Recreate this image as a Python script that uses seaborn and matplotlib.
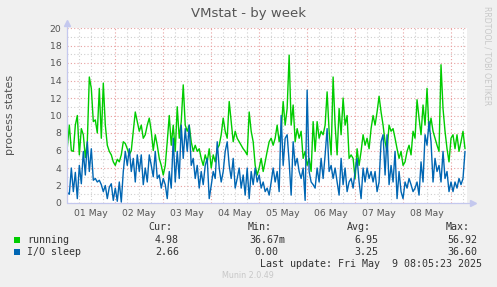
import numpy as np
import pandas as pd
import matplotlib
matplotlib.use("Agg")
import matplotlib.pyplot as plt
import matplotlib.dates as mdates
from matplotlib.ticker import MultipleLocator, FuncFormatter, NullFormatter
from matplotlib.patches import Rectangle
import seaborn as sns

# ---------------- data (hourly samples) ----------------
running = [
    6.4, 8.9, 6.0, 5.9, 8.9, 10.0, 5.5, 8.5, 7.8, 5.2, 7.0, 14.4, 13.1, 9.3, 9.5, 8.0, 13.1, 7.4, 13.7, 8.9,
    6.6, 5.9, 5.5, 4.7, 4.3, 5.0, 4.7, 5.5, 7.0, 6.8, 6.2, 5.5, 6.0, 8.2, 10.4, 9.3, 8.2, 8.9, 7.4, 7.8,
    8.9, 9.7, 8.2, 6.0, 7.8, 6.6, 5.1, 4.3, 3.2, 4.3,
    7.0, 10.0, 6.6, 8.9, 5.9, 11.0, 7.4, 9.3, 13.5, 8.9, 8.2, 8.9, 7.0, 5.9, 6.6, 5.9, 6.2, 5.1, 4.3, 5.5,
    4.7, 6.2, 4.0, 5.5, 4.7, 6.2, 6.6, 7.8, 9.7, 8.2, 7.4, 11.6, 9.3, 7.0, 8.2, 7.4, 7.0, 6.6, 6.2, 5.9,
    5.5, 10.4, 8.2, 7.0, 4.3, 3.2, 4.0, 5.1, 3.6, 4.7,
    5.9, 7.0, 7.4, 6.6, 7.4, 8.9, 7.0, 8.2, 11.6, 8.9, 10.8, 16.9, 8.9, 11.2, 7.0, 8.5, 7.4, 8.2, 5.1, 5.9,
    4.3, 5.1, 3.6, 9.3, 5.9, 9.3, 7.4, 8.2, 7.8, 8.9, 12.7, 8.2, 5.5, 14.4, 8.9, 5.5, 10.8, 7.8, 12.0, 8.9,
    10.0, 5.1, 5.5, 5.1, 2.8, 6.2, 4.3, 5.9, 7.8, 6.6,
    7.4, 6.2, 8.5, 10.0, 8.9, 10.4, 12.2, 10.4, 8.9, 7.0, 5.9, 8.9, 8.2, 8.5, 7.4, 6.2, 5.1, 5.9, 4.3, 4.7,
    5.9, 6.6, 5.5, 8.2, 7.4, 11.8, 9.7, 7.8, 11.2, 8.9, 13.1, 8.2, 9.7, 8.2, 7.4, 6.6, 5.9, 15.8, 10.8, 8.2,
    6.2, 4.7, 7.4, 7.8, 6.2, 7.8, 5.9, 7.0, 8.2, 6.2,
]
io_sleep = [
    1.2, 1.0, 4.0, 1.3, 3.5, 0.5, 4.3, 2.2, 5.9, 3.2, 7.0, 3.6, 6.2, 2.6, 2.8, 2.4, 2.6, 2.1, 1.3, 2.0,
    0.5, 1.8, 2.2, 0.3, 1.7, 0.2, 2.4, 0.1, 3.6, 5.9, 4.3, 6.2, 3.6, 5.1, 2.4, 5.5, 3.6, 5.5, 2.1, 4.0,
    2.4, 5.5, 4.3, 3.0, 5.9, 2.8, 3.2, 1.7, 2.8, 2.1,
    0.5, 3.6, 1.7, 7.4, 2.4, 5.9, 2.8, 8.9, 5.1, 8.5, 5.9, 8.9, 4.3, 5.1, 2.8, 4.3, 1.7, 3.6, 2.1, 4.3,
    5.1, 0.5, 2.0, 3.6, 2.8, 7.0, 4.0, 2.4, 3.6, 5.9, 7.0, 4.3, 2.8, 5.1, 1.7, 2.8, 4.0, 1.7, 3.2, 0.9,
    4.0, 0.5, 3.6, 2.1, 4.0, 2.4, 3.2, 1.7, 2.4, 1.3,
    1.7, 0.9, 2.4, 4.0, 2.4, 3.6, 1.3, 10.0, 4.3, 7.4, 7.8, 4.7, 0.9, 7.0, 4.3, 5.1, 3.6, 2.8, 4.0, 0.3,
    12.9, 3.6, 2.4, 2.1, 1.7, 4.0, 2.4, 5.1, 2.8, 5.5, 8.5, 3.6, 4.3, 2.8, 4.0, 2.4, 0.9, 5.1, 2.1, 4.0,
    1.3, 2.4, 2.8, 1.7, 3.6, 5.1, 2.4, 0.5, 4.0, 2.4,
    4.0, 2.8, 3.6, 2.4, 3.6, 1.3, 2.4, 7.0, 7.8, 3.2, 7.8, 2.1, 4.3, 2.4, 5.9, 0.5, 3.6, 1.3, 0.5, 2.4,
    1.7, 2.8, 2.1, 1.3, 1.7, 2.4, 0.9, 4.7, 2.4, 7.8, 6.6, 9.3, 7.0, 2.4, 5.1, 3.6, 4.3, 2.4, 5.9, 2.8,
    3.6, 1.3, 2.4, 1.3, 2.4, 1.7, 2.8, 2.1, 2.8, 5.9,
]
series_names = ["running", "I/O sleep"]
series_colors = ["#00CC00", "#0066B3"]
cur_vals = ["4.98", "2.66"]
min_vals = ["36.67m", "0.00"]
avg_vals = ["6.95", "3.25"]
max_vals = ["56.92", "36.60"]
title = "VMstat - by week"
ylabel = "process states"
last_update = "Last update: Fri May  9 08:05:23 2025"

# ---------------- frame ----------------
times = pd.date_range("2025-05-01 00:05", periods=len(running), freq="h")
df = pd.DataFrame({
    "time": list(times) + list(times),
    "value": running + io_sleep,
    "series": [series_names[0]] * len(running) + [series_names[1]] * len(io_sleep),
})

W, H = 497, 287
sns.set_style("white")
plt.rcParams["font.family"] = ["DejaVu Sans"]
fig = plt.figure(figsize=(W / 100, H / 100), dpi=100, facecolor="#F0F0F0")
ax = fig.add_axes([67 / W, 1 - 203 / H, 400 / W, 175 / H])
ax.set_facecolor("white")

sns.lineplot(data=df, x="time", y="value", hue="series", hue_order=series_names,
             palette=series_colors, linewidth=1.0, ax=ax, legend=False,
             estimator=None, sort=False, zorder=3)

ax.set_xlim(pd.Timestamp("2025-04-30 23:55"), pd.Timestamp("2025-05-09 08:05"))
ax.set_ylim(0, 20)
ax.set_xlabel("")
ax.set_ylabel("")

# grid
ax.yaxis.set_major_locator(MultipleLocator(2))
ax.yaxis.set_minor_locator(MultipleLocator(1))
ax.xaxis.set_major_locator(mdates.HourLocator(byhour=[0]))
ax.xaxis.set_minor_locator(mdates.HourLocator(byhour=[6, 12, 18]))
ax.xaxis.set_major_formatter(NullFormatter())


def noon_fmt(x, pos):
    d = mdates.num2date(x)
    return d.strftime("%d %b") if d.hour == 12 else ""


ax.xaxis.set_minor_formatter(FuncFormatter(noon_fmt))
ax.grid(which="major", color="#E8A0A0", linestyle=(0, (1, 2)), linewidth=0.8, zorder=0)
ax.grid(which="minor", color="#CFCFCF", linestyle=(0, (1, 2)), linewidth=0.8, zorder=0)
ax.set_axisbelow(True)
ax.tick_params(axis="both", which="both", length=0, labelsize=6.7, labelcolor="#555555")
ax.tick_params(axis="x", which="minor", pad=4)
ax.tick_params(axis="y", pad=4)

for s in ax.spines.values():
    s.set_visible(False)
axis_col = "#C4C8EE"
ax.plot([0, 1.012], [0, 0], color=axis_col, lw=0.9, transform=ax.transAxes, clip_on=False, zorder=4)
ax.plot([0, 0], [0, 1.025], color=axis_col, lw=0.9, transform=ax.transAxes, clip_on=False, zorder=4)
ax.plot([1.014], [0], marker=">", ms=4.5, color=axis_col, transform=ax.transAxes, clip_on=False, zorder=4)
ax.plot([0], [1.03], marker="^", ms=4.5, color=axis_col, transform=ax.transAxes, clip_on=False, zorder=4)


def fx(px):
    return px / W


def fy(py):
    return 1 - py / H


fig.text(fx(249), fy(13), title, ha="center", va="center", fontsize=9.5, color="#555555")
fig.text(fx(10), fy(115), ylabel, ha="center", va="center", rotation=90, fontsize=8, color="#555555")
fig.text(fx(487), fy(56), "RRDTOOL / TOBI OETIKER", ha="center", va="center", rotation=270,
         fontsize=5.6, color="#C8C8C8")

mono = dict(family="DejaVu Sans Mono", fontsize=7.2, color="#333333", va="center")
for lab, xr in zip(["Cur:", "Min:", "Avg:", "Max:"], [172, 272, 371, 470]):
    fig.text(fx(xr), fy(227), lab, ha="right", **mono)

rows_y = [240, 252]
for i, name in enumerate(series_names):
    y = rows_y[i]
    fig.patches.append(Rectangle((fx(14), fy(y + 3)), 6 / W, 6 / H, transform=fig.transFigure,
                                 facecolor=series_colors[i], edgecolor="none"))
    fig.text(fx(27), fy(y), name, ha="left", **mono)
    fig.text(fx(179), fy(y), cur_vals[i], ha="right", **mono)
    fig.text(fx(285 if min_vals[i].endswith("m") else 278), fy(y), min_vals[i], ha="right", **mono)
    fig.text(fx(378), fy(y), avg_vals[i], ha="right", **mono)
    fig.text(fx(477), fy(y), max_vals[i], ha="right", **mono)

fig.text(fx(482), fy(264), last_update, ha="right", **mono)
fig.text(fx(248), fy(276), "Munin 2.0.49", ha="center", va="center", fontsize=5.8, color="#C8C8C8")

fig.savefig("out.png", dpi=100, facecolor=fig.get_facecolor())
